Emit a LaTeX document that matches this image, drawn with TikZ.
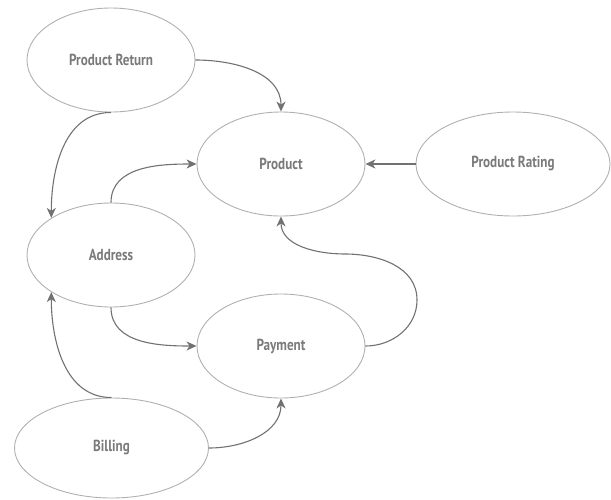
\documentclass[tikz,border=0pt]{standalone}
\usepackage{fontspec}
\setmainfont{PT Sans}
\usetikzlibrary{shapes.geometric,arrows.meta}
\definecolor{txtgray}{HTML}{7A7A7A}
\definecolor{ringgray}{HTML}{B0B0B0}
\definecolor{linegray}{HTML}{717171}
\newcommand\entlabel[1]{\scalebox{0.82}[1]{#1}}
\tikzset{
  ent/.style={ellipse, draw=ringgray, line width=0.9pt, inner sep=0pt,
    minimum width=168pt, minimum height=104pt, text=txtgray,
    font=\fontsize{16}{19}\selectfont\bfseries},
  wide/.style={minimum width=194pt},
  link/.style={draw=linegray, line width=1.1pt,
    -{Stealth[length=10pt,width=9pt,inset=3pt]}}
}
\begin{document}
\begin{tikzpicture}[x=1pt,y=-1pt]
\useasboundingbox (0,0) rectangle (611,499);
\node[ent] (ret) at (111,60) {\entlabel{Product Return}};
\node[ent] (prod) at (281,164) {\entlabel{Product}};
\node[ent,wide] (rate) at (513,164) {\entlabel{Product Rating}};
\node[ent] (addr) at (111,255) {\entlabel{Address}};
\node[ent] (pay) at (281,346) {\entlabel{Payment}};
\node[ent,wide,minimum height=100pt] (bill) at (111.5,448) {\entlabel{Billing}};
\coordinate (k1) at (417,300);
\coordinate (k2) at (345,254);
\draw[link] (ret.east) to[out=0,in=90] (prod.north);
\draw[link] (ret.south) to[out=180,in=90] (addr.north west);
\draw[link] (addr.north) to[out=90,in=180] (prod.west);
\draw[link] (rate.west) -- (prod.east);
\draw[link] (pay.east) to[out=0,in=-90] (k1) to[out=90,in=0] (k2) to[out=180,in=-90] (prod.south);
\draw[link] (addr.south) to[out=-90,in=180] (pay.west);
\draw[link] (bill.north) to[out=180,in=-90] (addr.south west);
\draw[link] (bill.east) to[out=0,in=-90] (pay.south);
\end{tikzpicture}
\end{document}
